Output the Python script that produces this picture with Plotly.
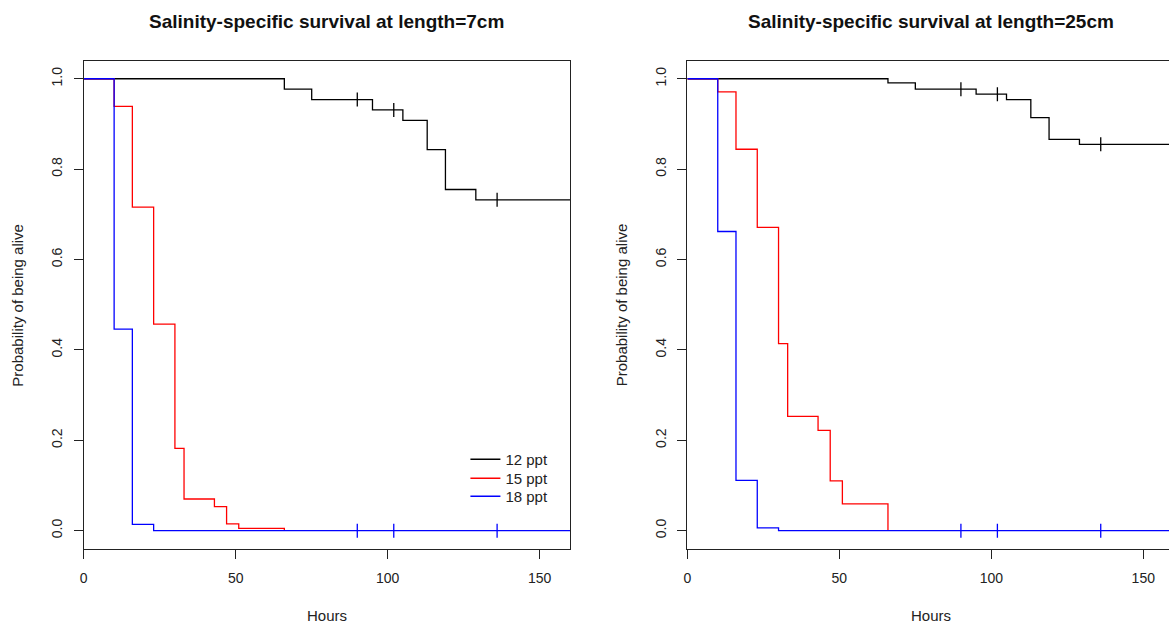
import numpy as np
import plotly.graph_objects as go

# Kaplan-Meier step curves (hours, survival)
series_names = ["12 ppt", "15 ppt", "18 ppt"]
series_colors = ["black", "#ff0000", "#0000ff"]

# length = 7cm
t12_7 = [0, 66, 75, 95, 105, 113, 119, 129, 160]
s12_7 = [1.0, 0.977, 0.954, 0.931, 0.908, 0.843, 0.755, 0.732, 0.732]
t15_7 = [0, 10, 16, 23, 30, 33, 43, 47, 51, 66]
s15_7 = [1.0, 0.939, 0.716, 0.457, 0.182, 0.070, 0.053, 0.015, 0.005, 0.0]
t18_7 = [0, 10, 16, 23, 160]
s18_7 = [1.0, 0.446, 0.014, 0.0, 0.0]

# length = 25cm
t12_25 = [0, 66, 75, 95, 105, 113, 119, 129, 160]
s12_25 = [1.0, 0.991, 0.977, 0.966, 0.954, 0.914, 0.866, 0.855, 0.855]
t15_25 = [0, 10, 16, 23, 30, 33, 43, 47, 51, 66]
s15_25 = [1.0, 0.971, 0.844, 0.671, 0.414, 0.253, 0.222, 0.110, 0.059, 0.0]
t18_25 = [0, 10, 16, 23, 30, 160]
s18_25 = [1.0, 0.662, 0.111, 0.006, 0.0, 0.0]

# censored observations (shown as tick marks)
censor_12 = [90, 102, 136]
censor_18 = [90, 102, 136]

x_ticks = [0, 50, 100, 150]
y_ticks = [0.0, 0.2, 0.4, 0.6, 0.8, 1.0]
y_ticklabels = ["0.0", "0.2", "0.4", "0.6", "0.8", "1.0"]

titles = ["Salinity-specific survival at length=7cm",
          "Salinity-specific survival at length=25cm"]

W, H = 1169, 624
FONT = "Liberation Sans, Arial, sans-serif"
AX = "#222222"


def step_at(times, surv, t):
    i = np.searchsorted(np.array(times), t, side="right") - 1
    return surv[i]


panels = [
    [(t12_7, s12_7, censor_12), (t15_7, s15_7, []), (t18_7, s18_7, censor_18)],
    [(t12_25, s12_25, censor_12), (t15_25, s15_25, []), (t18_25, s18_25, censor_18)],
]
legend_ids = ["legend", "legend2", "legend3"]

fig = go.Figure()
for p, curves in enumerate(panels):
    xa = "x" if p == 0 else "x2"
    ya = "y" if p == 0 else "y2"
    for k, (t, s, cens) in enumerate(curves):
        fig.add_trace(go.Scatter(
            x=t, y=s, mode="lines", line=dict(color=series_colors[k], width=1.3, shape="hv"),
            name=series_names[k], showlegend=(p == 0), legend=legend_ids[k],
            xaxis=xa, yaxis=ya, hoverinfo="skip"))
        if cens:
            fig.add_trace(go.Scatter(
                x=cens, y=[step_at(t, s, c) for c in cens], mode="markers",
                marker=dict(symbol="line-ns", size=10,
                            line=dict(color=series_colors[k], width=1.3)),
                showlegend=False, xaxis=xa, yaxis=ya, hoverinfo="skip"))

# plot boxes in pixels
L1, R1 = 80, 568
L2 = 685.7
TOP, BOT = 60.7, 548.7
px_per_hour = (R1 - L1) / 160.0

ydom = [1 - BOT / H, 1 - TOP / H]

common_x = dict(tickvals=x_ticks, ticks="outside", ticklen=9, tickwidth=1.2, tickcolor=AX,
                showline=True, linecolor=AX, linewidth=1.3, mirror=True,
                showgrid=False, zeroline=False, ticklabelstandoff=7,
                tickfont=dict(family=FONT, size=14, color=AX))
common_y = dict(tickvals=y_ticks, ticktext=y_ticklabels, ticks="outside", ticklen=9,
                tickwidth=1.2, tickcolor=AX, showline=True, linecolor=AX, linewidth=1.3,
                showgrid=False, zeroline=False, range=[-0.04, 1.04], tickangle=-90,
                ticklabelstandoff=6, tickfont=dict(family=FONT, size=14, color=AX))


def legend_box(top_px):
    return dict(x=463 / W, y=1 - top_px / H, xanchor="left", yanchor="top",
                bgcolor="rgba(0,0,0,0)", borderwidth=0,
                font=dict(family=FONT, size=15, color=AX))


fig.update_layout(
    width=W, height=H,
    margin=dict(l=0, r=0, t=0, b=0),
    plot_bgcolor="white", paper_bgcolor="white",
    xaxis=dict(domain=[L1 / W, R1 / W], range=[0, 160], anchor="y", **common_x),
    yaxis=dict(domain=ydom, anchor="x", mirror=True, **common_y),
    xaxis2=dict(domain=[L2 / W, 1.0], range=[0, (W - L2) / px_per_hour], anchor="y2", **common_x),
    yaxis2=dict(domain=ydom, anchor="x2", mirror=False, **common_y),
    legend=legend_box(443),
    legend2=legend_box(462),
    legend3=legend_box(480),
    showlegend=True,
)

centers = [(L1 + R1) / 2, (L2 + L2 + 160 * px_per_hour) / 2]
lefts = [L1, L2]
for p in range(2):
    fig.add_annotation(text="<b>" + titles[p] + "</b>", x=centers[p] / W, y=1 - 22 / H,
                       xref="paper", yref="paper", showarrow=False,
                       xanchor="center", yanchor="middle",
                       font=dict(family=FONT, size=19, color="#111111"))
    fig.add_annotation(text="Hours", x=centers[p] / W, y=1 - 615 / H,
                       xref="paper", yref="paper", showarrow=False,
                       xanchor="center", yanchor="middle",
                       font=dict(family=FONT, size=15, color=AX))
    fig.add_annotation(text="Probability of being alive", x=(lefts[p] - 66) / W,
                       y=1 - ((TOP + BOT) / 2) / H, xref="paper", yref="paper",
                       showarrow=False, textangle=-90, xanchor="center", yanchor="middle",
                       font=dict(family=FONT, size=15, color=AX))

fig.write_html("out.html", config={"displayModeBar": False},
               post_script="document.body.style.margin='0';")
